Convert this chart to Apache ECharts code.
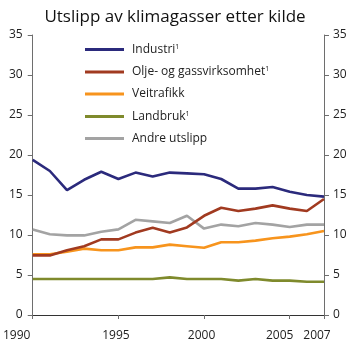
<!DOCTYPE html>
<html>
<head>
<meta charset="utf-8">
<script src="https://cdn.jsdelivr.net/npm/echarts@6/dist/echarts.min.js"></script>
<style>
  html, body { margin: 0; padding: 0; background: #fff; }
  #chart { width: 350px; height: 345px; }
</style>
</head>
<body>
<div id="chart"></div>
<script>
// Greenhouse gas emissions by source, million tonnes CO2-equivalents
const years = [1990, 1991, 1992, 1993, 1994, 1995, 1996, 1997, 1998, 1999,
               2000, 2001, 2002, 2003, 2004, 2005, 2006, 2007];
const industri   = [19.4, 18.0, 15.6, 16.9, 17.9, 17.0, 17.8, 17.3, 17.8, 17.7,
                    17.6, 17.0, 15.8, 15.8, 16.0, 15.4, 15.0, 14.8];
const oljeGass   = [7.45, 7.45, 8.1, 8.6, 9.45, 9.45, 10.3, 10.9, 10.3, 10.95,
                    12.4, 13.4, 13.0, 13.3, 13.7, 13.3, 13.0, 14.5];
const veitrafikk = [7.6, 7.6, 7.9, 8.3, 8.1, 8.1, 8.45, 8.45, 8.8, 8.6,
                    8.4, 9.1, 9.1, 9.3, 9.6, 9.8, 10.1, 10.5];
const landbruk   = [4.5, 4.5, 4.5, 4.5, 4.5, 4.5, 4.5, 4.5, 4.7, 4.5,
                    4.5, 4.5, 4.3, 4.5, 4.3, 4.3, 4.15, 4.15];
const andre      = [10.7, 10.1, 9.95, 9.95, 10.4, 10.7, 11.9, 11.7, 11.5, 12.4,
                    10.8, 11.3, 11.1, 11.5, 11.3, 11.0, 11.3, 11.3];

const seriesNames = ['Industri', 'Olje- og gassvirksomhet', 'Veitrafikk', 'Landbruk', 'Andre utslipp'];
const footnoted   = ['Industri', 'Olje- og gassvirksomhet', 'Landbruk'];
const seriesData  = [industri, oljeGass, veitrafikk, landbruk, andre];
const colors      = ['#2b2a7c', '#a13a20', '#f7941d', '#7f8a2c', '#a3a3a3'];

const yTicks = [0, 5, 10, 15, 20, 25, 30, 35];

const FONT = 'Open Sans';
const axisColor = '#6e6e6e';
const textColor = '#222';

const chart = echarts.init(document.getElementById('chart'), null, { renderer: 'canvas' });

const yAxisBase = (pos) => ({
  type: 'value',
  position: pos,
  min: yTicks[0],
  max: yTicks[yTicks.length - 1],
  interval: 5,
  axisLine: { show: true, lineStyle: { color: axisColor, width: 1 } },
  axisTick: { show: true, length: 5, lineStyle: { color: axisColor } },
  axisLabel: { color: textColor, fontFamily: FONT, fontSize: 12, margin: pos === 'left' ? 10 : 9 },
  splitLine: { show: false }
});

// shift crowded year labels a little to the left
const labelShift = { 1990: 'a', 1995: 'b', 2000: 'b', 2005: 'c', 2007: 'd' };

chart.setOption({
  animation: false,
  title: {
    text: 'Utslipp av klimagasser etter kilde',
    left: 'center',
    top: 4,
    textStyle: { fontFamily: FONT, fontSize: 17, fontWeight: 'normal', color: '#111' }
  },
  grid: { left: 27, right: 26, top: 35, bottom: 30, containLabel: false },
  legend: {
    orient: 'vertical',
    left: 80,
    top: 38,
    icon: 'rect',
    itemWidth: 39,
    itemHeight: 3,
    itemGap: 10,
    data: seriesNames,
    formatter: (name) => footnoted.includes(name) ? name + '{s|1}' : name,
    textStyle: {
      fontFamily: FONT, fontSize: 12, color: textColor, padding: [0, 0, 0, 3],
      rich: { s: { fontSize: 7, fontFamily: FONT, color: textColor, padding: [0, 0, 6, 0] } }
    }
  },
  xAxis: [{
    type: 'value',
    min: years[0],
    max: years[years.length - 1],
    interval: 5,
    axisLine: { show: true, onZero: false, lineStyle: { color: axisColor } },
    axisTick: { show: true, length: 4, lineStyle: { color: axisColor } },
    axisLabel: {
      fontFamily: FONT, fontSize: 12, color: textColor, margin: 15,
      formatter: (v) => '{' + (labelShift[v] || 'b') + '|' + v + '}',
      rich: {
        a: { fontFamily: FONT, fontSize: 12, color: textColor, padding: [0, 32, 0, 0] },
        b: { fontFamily: FONT, fontSize: 12, color: textColor, padding: [0, 5, 0, 0] },
        c: { fontFamily: FONT, fontSize: 12, color: textColor, padding: [0, 20, 0, 0] },
        d: { fontFamily: FONT, fontSize: 12, color: textColor, padding: [0, 14, 0, 0] }
      }
    },
    splitLine: { show: false }
  }, {
    type: 'value',
    position: 'top',
    min: years[0],
    max: years[years.length - 1],
    axisLine: { show: true, lineStyle: { color: '#333' } },
    axisTick: { show: false },
    axisLabel: { show: false },
    splitLine: { show: false }
  }],
  yAxis: [yAxisBase('left'), yAxisBase('right')],
  series: seriesNames.map((name, i) => ({
    name,
    type: 'line',
    xAxisIndex: 0,
    yAxisIndex: 0,
    data: years.map((y, k) => [y, seriesData[i][k]]),
    showSymbol: false,
    symbol: 'none',
    color: colors[i],
    lineStyle: { color: colors[i], width: 2.6 },
    z: 10 - i
  }))
});
</script>
</body>
</html>
